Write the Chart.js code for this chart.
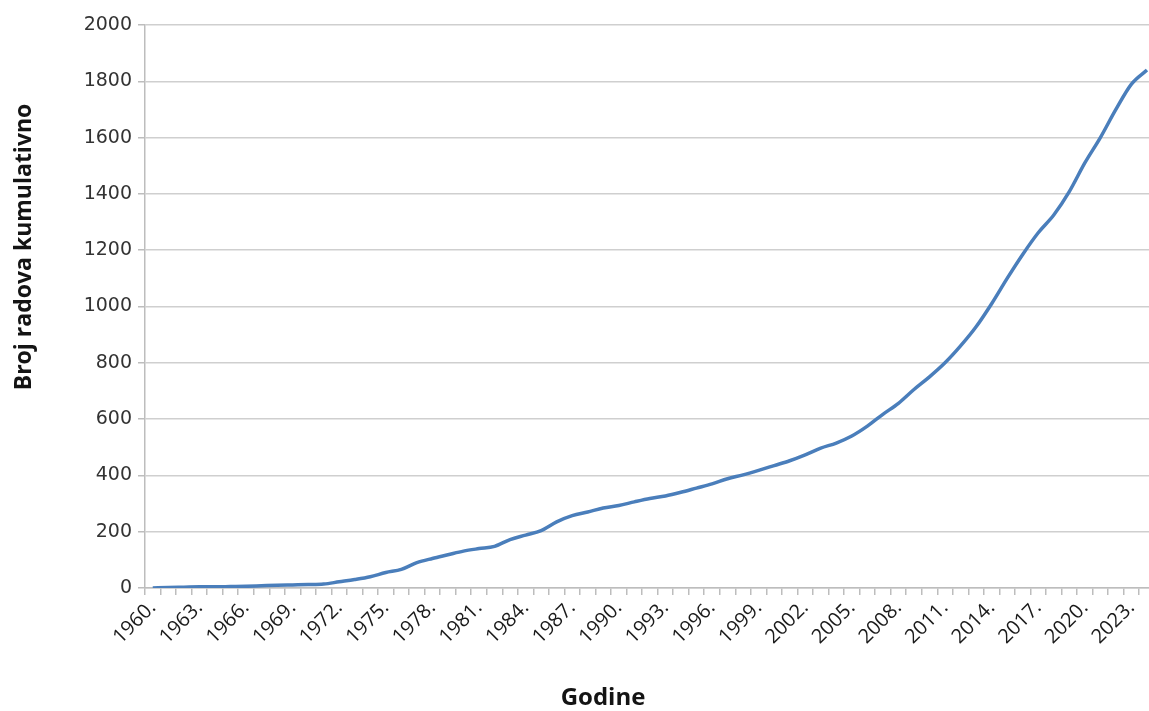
<!DOCTYPE html>
<html>
<head>
<meta charset="utf-8">
<script src="https://cdn.jsdelivr.net/npm/chart.js@4/dist/chart.umd.min.js"></script>
<style>
  html, body { margin: 0; padding: 0; overflow: hidden; background: #ffffff; }
  #wrap { position: relative; width: 1165px; height: 711px; }
</style>
</head>
<body>
<div id="wrap"><canvas id="c"></canvas></div>
<script>
// ---- data ----
const years = [
  1960,1961,1962,1963,1964,1965,1966,1967,1968,1969,
  1970,1971,1972,1973,1974,1975,1976,1977,1978,1979,
  1980,1981,1982,1983,1984,1985,1986,1987,1988,1989,
  1990,1991,1992,1993,1994,1995,1996,1997,1998,1999,
  2000,2001,2002,2003,2004,2005,2006,2007,2008,2009,
  2010,2011,2012,2013,2014,2015,2016,2017,2018,2019,
  2020,2021,2022,2023,2024
];
const cumulativePapers = [
  0,2,3,4,4,5,6,8,10,11,
  12,14,22,30,40,55,66,90,105,118,
  131,140,148,172,188,204,235,257,270,284,
  293,306,318,327,340,355,370,388,402,418,
  435,452,473,497,515,540,575,617,656,705,
  750,800,860,928,1010,1100,1185,1262,1325,1408,
  1510,1600,1700,1790,1840
];
const yTicks = [0,200,400,600,800,1000,1200,1400,1600,1800,2000];
const xLabelStep = 3;
const yTitle = 'Broj radova kumulativno';
const xTitle = 'Godine';

const titlePlugin = {
  id: 'axisTitles',
  afterDraw(chart) {
    const ctx = chart.ctx;
    ctx.save();
    ctx.fillStyle = '#141414';
    ctx.font = 'bold 23px "Open Sans"';
    ctx.textAlign = 'center';
    ctx.textBaseline = 'middle';
    ctx.translate(24, 247);
    ctx.rotate(-Math.PI / 2);
    ctx.fillText(yTitle, 0, 0);
    ctx.restore();
    ctx.save();
    ctx.fillStyle = '#141414';
    ctx.font = 'bold 24px "Open Sans"';
    ctx.textAlign = 'center';
    ctx.textBaseline = 'middle';
    ctx.fillText(xTitle, 603, 698);
    ctx.restore();
  }
};

new Chart(document.getElementById('c'), {
  type: 'line',
  data: {
    labels: years,
    datasets: [{
      data: cumulativePapers,
      borderColor: '#4a7ebb',
      borderWidth: 3.5,
      pointRadius: 0,
      fill: false,
      cubicInterpolationMode: 'monotone'
    }]
  },
  options: {
    responsive: true,
    maintainAspectRatio: false,
    animation: false,
    layout: { padding: { left: 0, right: 8, top: 25, bottom: 0 } },
    plugins: { legend: { display: false }, tooltip: { enabled: false } },
    scales: {
      x: {
        type: 'category',
        offset: true,
        grid: {
          offset: true,
          drawOnChartArea: false,
          drawTicks: true,
          tickLength: 7,
          color: '#bdbdbd',
          lineWidth: 1.5
        },
        border: { color: '#bdbdbd', width: 1.5 },
        ticks: {
          autoSkip: false,
          minRotation: 45,
          maxRotation: 45,
          padding: 1,
          color: '#1a1a1a',
          font: { family: '"Open Sans"', size: 20 },
          callback: function(value, index) {
            return ((years[index] - years[0]) % xLabelStep === 0) ? years[index] + '.' : '';
          }
        },
        afterFit: function(scale) { scale.height = 711 - 588; }
      },
      y: {
        min: 0,
        max: 2000,
        afterBuildTicks: function(scale) { scale.ticks = yTicks.map(v => ({ value: v })); },
        grid: {
          color: '#cfcfcf',
          lineWidth: 1.5,
          drawTicks: true,
          tickLength: 7,
          tickColor: '#bdbdbd'
        },
        border: { color: '#bdbdbd', width: 1.5 },
        ticks: {
          padding: 6,
          color: '#333333',
          font: { family: '"DejaVu Sans"', size: 19 },
          callback: function(v) { return String(v); }
        },
        afterFit: function(scale) { scale.width = 145; }
      }
    }
  },
  plugins: [titlePlugin]
});
</script>
</body>
</html>
